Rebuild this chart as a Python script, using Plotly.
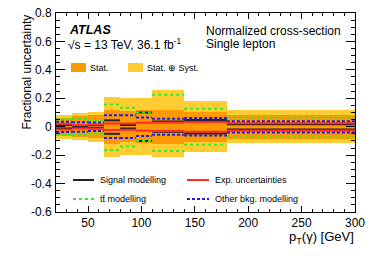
import plotly.graph_objects as go

# bin edges in pT(gamma) [GeV]
bin_edges = [20, 35, 50, 65, 80, 95, 110, 140, 180, 300]

# fractional uncertainties (up, down magnitudes)
tot_up   = [0.085, 0.095, 0.105, 0.210, 0.200, 0.200, 0.255, 0.180, 0.115]
tot_dn   = [0.088, 0.095, 0.105, 0.215, 0.200, 0.200, 0.216, 0.180, 0.115]
stat_up  = [0.060, 0.072, 0.080, 0.117, 0.110, 0.115, 0.120, 0.105, 0.085]
stat_dn  = [0.062, 0.072, 0.080, 0.123, 0.110, 0.115, 0.120, 0.105, 0.085]
sig_up   = [0.012, 0.006, 0.010, 0.045, 0.012, 0.100, 0.036, 0.048, 0.018]
sig_dn   = [0.012, 0.006, 0.010, 0.050, 0.012, 0.100, 0.036, 0.048, 0.020]
exp_up   = [0.020, 0.012, 0.015, 0.023, 0.022, 0.028, 0.030, 0.033, 0.024]
exp_dn   = [0.020, 0.012, 0.015, 0.023, 0.022, 0.028, 0.030, 0.035, 0.026]
tt_up    = [0.052, 0.055, 0.047, 0.156, 0.133, 0.100, 0.225, 0.127, 0.064]
tt_dn    = [0.053, 0.060, 0.047, 0.165, 0.140, 0.100, 0.170, 0.127, 0.068]
bkg_up   = [0.035, 0.032, 0.030, 0.080, 0.080, 0.065, 0.056, 0.062, 0.038]
bkg_dn   = [0.038, 0.035, 0.030, 0.080, 0.080, 0.065, 0.056, 0.062, 0.040]

x_range = [20, 300]
y_range = [-0.6, 0.8]
x_ticks = [50, 100, 150, 200, 250, 300]
x_ticktext = ["50", "100", "150", "200", "250", "300"]
y_ticks = [-0.6, -0.4, -0.2, 0.0, 0.2, 0.4, 0.6, 0.8]
y_ticktext = ["-0.6", "-0.4", "-0.2", "0", "0.2", "0.4", "0.6", "0.8"]

lo = bin_edges[:-1]
hi = bin_edges[1:]
centers = [(a + b) / 2 for a, b in zip(lo, hi)]
widths = [b - a for a, b in zip(lo, hi)]

YELLOW = "#ffcc33"
ORANGE = "#ff9900"
BLACK = "#222222"
RED = "#ff2a2a"
GREEN = "#33ee22"
BLUE = "#1a1aff"

fig = go.Figure()

def band(up, dn, color):
    fig.add_trace(go.Bar(
        x=centers, y=[u + d for u, d in zip(up, dn)], base=[-d for d in dn],
        width=widths, marker=dict(color=color, line=dict(width=0)),
        showlegend=False, hoverinfo="skip"))

band(tot_up, tot_dn, YELLOW)
band(stat_up, stat_dn, ORANGE)

def segs(up, dn, color, dash, width=2):
    xs, ys = [], []
    for a, b, u, d in zip(lo, hi, up, dn):
        xs += [a, b, None, a, b, None]
        ys += [u, u, None, -d, -d, None]
    fig.add_trace(go.Scatter(x=xs, y=ys, mode="lines",
                             line=dict(color=color, width=width, dash=dash),
                             showlegend=False, hoverinfo="skip"))

segs(sig_up, sig_dn, BLACK, "solid")
segs(exp_up, exp_dn, RED, "solid")
segs(tt_up, tt_dn, GREEN, "3px,3px")
segs(bkg_up, bkg_dn, BLUE, "3px,2px")

# layout geometry (pixels); body margin is removed in the page
W, H = 374, 268
FL, FR, FT, FB = 56, 355, 13, 212  # frame in page pixels
L, R, T, B = FL, W - FR, FT, H - FB
PW, PH = FR - FL, FB - FT

def px(xp):
    return (xp - FL) / PW

def py(yp):
    return (FB - yp) / PH

FONT = "Liberation Sans, Arial, sans-serif"

shapes = []
annots = []

# top legend boxes
shapes.append(dict(type="rect", xref="paper", yref="paper",
                   x0=px(71), x1=px(86), y0=py(72), y1=py(63),
                   fillcolor=ORANGE, line=dict(width=0)))
shapes.append(dict(type="rect", xref="paper", yref="paper",
                   x0=px(128), x1=px(143), y0=py(72), y1=py(63),
                   fillcolor=YELLOW, line=dict(width=0)))
annots.append(dict(text="Stat.", x=px(88), y=py(67.5), xanchor="left", yanchor="middle"))
annots.append(dict(text="Stat. \u2295 Syst.", x=px(145), y=py(67.5), xanchor="left", yanchor="middle"))

# bottom legend lines
def leg_line(x0, x1, yv, color, dash):
    shapes.append(dict(type="line", xref="paper", yref="paper",
                       x0=px(x0), x1=px(x1), y0=py(yv), y1=py(yv),
                       line=dict(color=color, width=2, dash=dash)))

leg_line(73, 94, 180, BLACK, "solid")
leg_line(187, 209, 180, RED, "solid")
leg_line(73, 94, 199, GREEN, "3px,3px")
leg_line(187, 209, 199, BLUE, "3px,2px")
annots.append(dict(text="Signal modelling", x=px(98), y=py(180), xanchor="left", yanchor="middle"))
annots.append(dict(text="Exp. uncertainties", x=px(213), y=py(180), xanchor="left", yanchor="middle"))
annots.append(dict(text="tt\u0304 modelling", x=px(98), y=py(199), xanchor="left", yanchor="middle"))
annots.append(dict(text="Other bkg. modelling", x=px(213), y=py(199), xanchor="left", yanchor="middle"))

for a in annots:
    a.update(xref="paper", yref="paper", showarrow=False,
             font=dict(family=FONT, size=9, color="#000"))

annots.append(dict(text="<b><i>ATLAS</i></b>", x=px(67), y=py(30), xref="paper", yref="paper",
                   xanchor="left", yanchor="middle", showarrow=False,
                   font=dict(family=FONT, size=12.5, color="#000")))
annots.append(dict(text="\u221as = 13 TeV, 36.1 fb<sup>-1</sup>", x=px(66), y=py(44.5),
                   xref="paper", yref="paper", xanchor="left", yanchor="middle",
                   showarrow=False, font=dict(family=FONT, size=12, color="#000")))
annots.append(dict(text="Normalized cross-section", x=px(204), y=py(30.5),
                   xref="paper", yref="paper", xanchor="left", yanchor="middle",
                   showarrow=False, font=dict(family=FONT, size=12, color="#000")))
annots.append(dict(text="Single lepton", x=px(204), y=py(44.5),
                   xref="paper", yref="paper", xanchor="left", yanchor="middle",
                   showarrow=False, font=dict(family=FONT, size=12, color="#000")))
# axis titles
annots.append(dict(text="Fractional uncertainty", x=px(26), y=py(13),
                   xref="paper", yref="paper", xanchor="center", yanchor="top",
                   textangle=-90, showarrow=False,
                   font=dict(family=FONT, size=12, color="#000")))
annots.append(dict(text="p<sub>T</sub>(\u03b3) [GeV]", x=px(356), y=py(237),
                   xref="paper", yref="paper", xanchor="right", yanchor="middle",
                   showarrow=False, font=dict(family=FONT, size=13, color="#000")))

fig.update_layout(
    width=W, height=H,
    margin=dict(l=L, r=R, t=T, b=B, autoexpand=False),
    paper_bgcolor="white", plot_bgcolor="white",
    barmode="overlay", bargap=0,
    showlegend=False,
    font=dict(family=FONT, size=12, color="#000"),
    shapes=shapes, annotations=annots,
)
fig.update_xaxes(range=x_range, showgrid=False, zeroline=False, automargin=False,
                 showline=True, linecolor="#000", linewidth=1, mirror="allticks",
                 ticks="inside", ticklen=6, tickwidth=1, tickcolor="#000",
                 tickmode="array", tickvals=x_ticks, ticktext=x_ticktext,
                 ticklabelstandoff=0,
                 minor=dict(ticks="inside", ticklen=3, dtick=10, tick0=0,
                            tickcolor="#000", showgrid=False),
                 tickfont=dict(size=12))
fig.update_yaxes(range=y_range, showgrid=False, zeroline=False, automargin=False,
                 showline=True, linecolor="#000", linewidth=1, mirror="allticks",
                 ticks="inside", ticklen=9, tickwidth=1, tickcolor="#000",
                 tickmode="array", tickvals=y_ticks, ticktext=y_ticktext,
                 ticklabelstandoff=1,
                 minor=dict(ticks="inside", ticklen=4, dtick=0.05, tick0=0,
                            tickcolor="#000", showgrid=False),
                 tickfont=dict(size=12))

fig.write_html("out.html",
               config={"displayModeBar": False},
               post_script="document.body.style.margin='0px';document.body.style.padding='0px';")
